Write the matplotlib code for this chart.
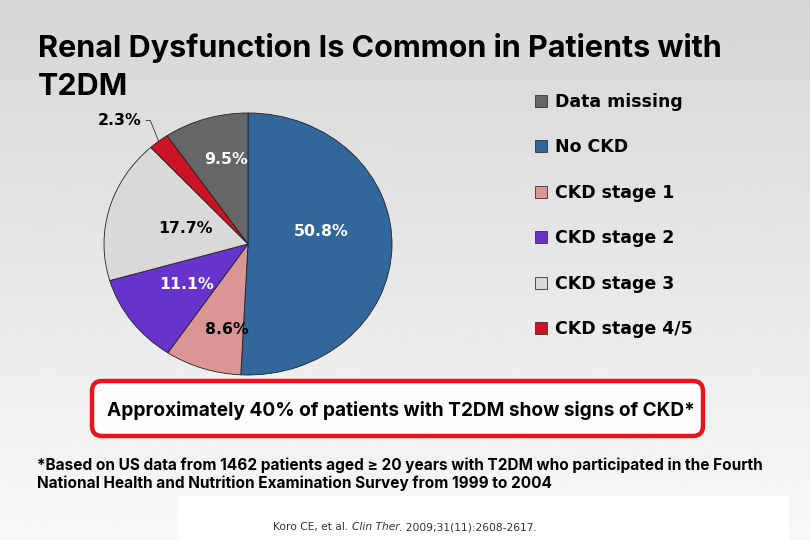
import matplotlib
matplotlib.use("Agg")
import matplotlib.pyplot as plt
import numpy as np
from matplotlib.patches import FancyBboxPatch, Rectangle, Patch

# data
categories = ["No CKD", "CKD stage 1", "CKD stage 2", "CKD stage 3", "CKD stage 4/5", "Data missing"]
values = [50.8, 8.6, 11.1, 17.7, 2.3, 9.5]
colors = ["#31679b", "#d99694", "#6633cc", "#d9d9d9", "#cc1424", "#666666"]
legend_order = ["Data missing", "No CKD", "CKD stage 1", "CKD stage 2", "CKD stage 3", "CKD stage 4/5"]

title_lines = ["Renal Dysfunction Is Common in Patients with", "T2DM"]
box_text = "Approximately 40% of patients with T2DM show signs of CKD*"
foot_lines = ["*Based on US data from 1462 patients aged \u2265 20 years with T2DM who participated in the Fourth",
              "National Health and Nutrition Examination Survey from 1999 to 2004"]
cite_parts = ["Koro CE, et al. ", "Clin Ther", ". 2009;31(11):2608-2617."]

# label placement per slice: radial distance, angle shift (deg), colour
lab_dist = [0.52, 0.67, 0.53, 0.45, None, 0.66]
lab_shift = [12, 6, 0, 0, 0, -4]
lab_col = ["white", "black", "white", "black", "black", "white"]

FONT = ["Inter", "DejaVu Sans"]

fig = plt.figure(figsize=(8.1, 5.4), dpi=100)
renderer = fig.canvas.get_renderer()


def fit(t, width):
    # scale the font so the text spans `width` pixels
    w = t.get_window_extent(renderer).width
    t.set_fontsize(t.get_fontsize() * width / w)
    return t


# background / overlay in pixel coords
bg = fig.add_axes([0, 0, 1, 1])
bg.set_xlim(0, 810)
bg.set_ylim(540, 0)
bg.axis("off")
grad = np.linspace(0.84, 0.975, 256).reshape(-1, 1)
bg.imshow(grad, cmap="gray", vmin=0, vmax=1, extent=[0, 810, 540, 0], aspect="auto")
bg.add_patch(Rectangle((178, 496), 610, 44, color="white", zorder=1))

t1 = bg.text(38, 57, title_lines[0], fontsize=20, fontweight="bold", family=FONT, va="baseline")
fit(t1, 686)
bg.text(38, 95, title_lines[1], fontsize=t1.get_fontsize(), fontweight="bold", family=FONT,
        va="baseline")

box = FancyBboxPatch((92, 381), 611, 55, boxstyle="round,pad=0,rounding_size=10",
                     fc="#fdfdfd", ec="#e8141a", lw=3.2, zorder=2)
bg.add_patch(box)
tb = bg.text(401, 410, box_text, fontsize=13, fontweight="bold", family=FONT,
             ha="center", va="center", zorder=3)
fit(tb, 588)

f1 = bg.text(37, 465, foot_lines[0], fontsize=10, fontweight="bold", family=FONT, va="center")
fit(f1, 723)
bg.text(37, 483, foot_lines[1], fontsize=f1.get_fontsize(), fontweight="bold", family=FONT,
        va="center")

# citation, drawn piece by piece so the journal can be italic
x = 273
cite_size = 7.7
for part, style in zip(cite_parts, ["normal", "italic", "normal"]):
    c = bg.text(x, 527, part, fontsize=cite_size, style=style, color="#333333", va="center", zorder=3)
    bb = c.get_window_extent(renderer)
    x += bb.width

# pie
ax = fig.add_axes([104 / 810, (540 - 375) / 540, 288 / 810, 262 / 540])
wedges, _ = ax.pie(values, colors=colors, startangle=90, counterclock=False,
                   wedgeprops=dict(edgecolor="#222222", linewidth=0.6))
ax.set_aspect("auto")
ax.set_xlim(-1, 1)
ax.set_ylim(-1, 1)

for w, v, d, s, c in zip(wedges, values, lab_dist, lab_shift, lab_col):
    ang = np.deg2rad((w.theta1 + w.theta2) / 2 + s)
    if d is None:
        xy = (np.cos(ang), np.sin(ang))
        ax.annotate(f"{v}%", xy=xy, xytext=(-28, 15), textcoords="offset points",
                    fontsize=11.3, fontweight="bold", ha="center", va="center",
                    arrowprops=dict(arrowstyle="-", color="#333333", lw=0.6,
                                    connectionstyle="angle,angleA=0,angleB=112,rad=0",
                                    shrinkA=1, shrinkB=0))
    else:
        ax.text(d * np.cos(ang), d * np.sin(ang), f"{v}%", color=c, fontsize=11.3,
                fontweight="bold", ha="center", va="center")

handles = [Patch(facecolor=colors[categories.index(n)], edgecolor="#333333", linewidth=0.6)
           for n in legend_order]
fig.legend(handles, legend_order, loc="upper left", bbox_to_anchor=(535, 93),
           bbox_transform=bg.transData, frameon=False, borderpad=0, borderaxespad=0,
           prop=dict(weight="bold", size=12.5), labelspacing=1.58,
           handlelength=0.7, handleheight=0.7, handletextpad=0.45)

fig.savefig("out.png", dpi=100)
